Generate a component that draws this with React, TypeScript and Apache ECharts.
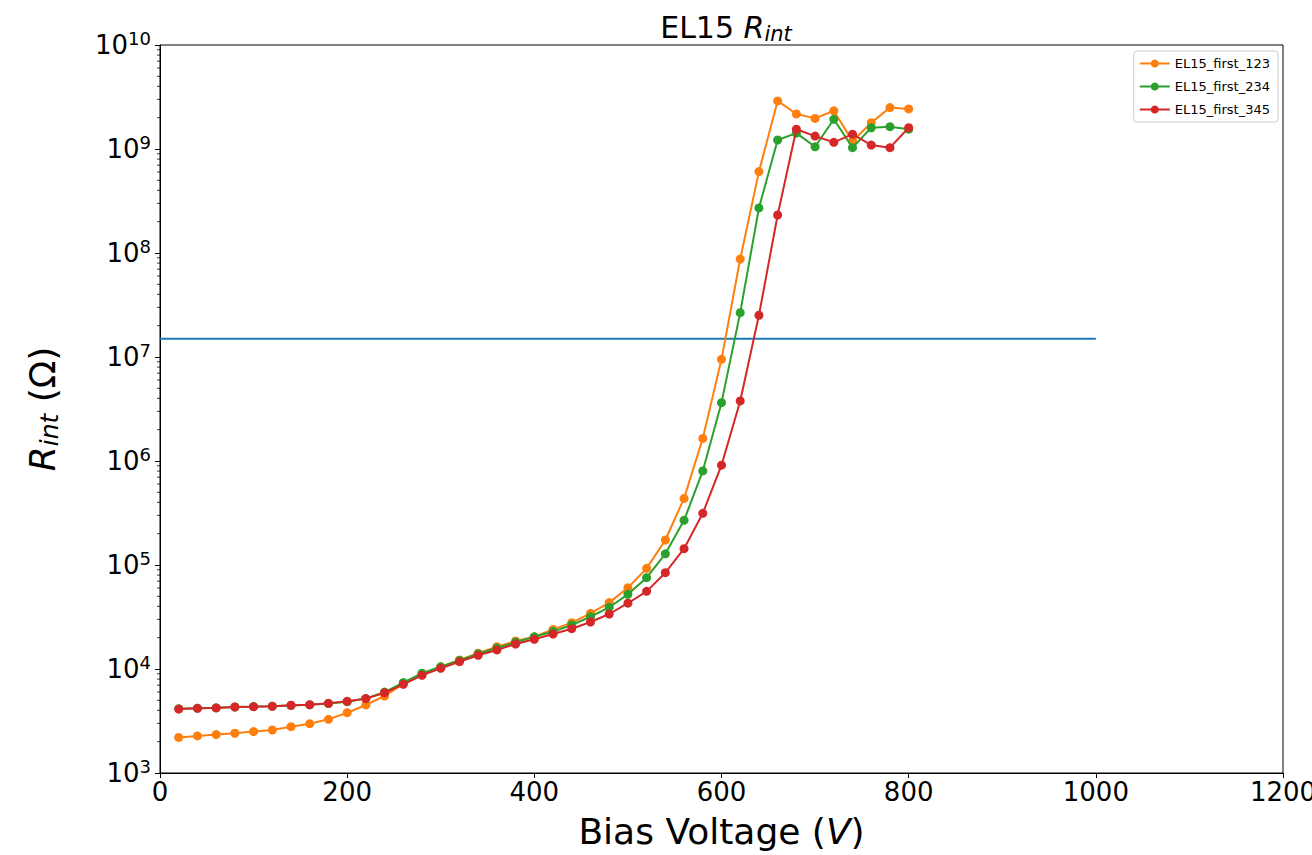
import React, { useEffect, useRef } from "react";
import * as echarts from "echarts";

const voltages = [20, 40, 60, 80, 100, 120, 140, 160, 180, 200, 220, 240, 260, 280, 300, 320, 340, 360, 380, 400, 420, 440, 460, 480, 500, 520, 540, 560, 580, 600, 620, 640, 660, 680, 700, 720, 740, 760, 780, 800];

const first123 = [2200, 2270, 2340, 2410, 2500, 2590, 2790, 2980, 3280, 3800, 4510, 5500, 7200, 8900, 10500, 12200, 14200, 16400, 18600, 20400, 24000, 27900, 34300, 43500, 60500, 92900, 174000, 437000, 1650000, 9500000, 87500000, 606000000, 2.9e9, 2.17e9, 1.97e9, 2.33e9, 1.19e9, 1.79e9, 2.5e9, 2.43e9];

const first234 = [4150, 4200, 4230, 4320, 4350, 4390, 4460, 4520, 4660, 4850, 5200, 6000, 7400, 9100, 10500, 12100, 14000, 15900, 18100, 20400, 22900, 26500, 31800, 39200, 52200, 75500, 128000, 269000, 802000, 3640000, 2.67e7, 2.71e8, 1.22e9, 1.42e9, 1.05e9, 1.93e9, 1.03e9, 1.6e9, 1.64e9, 1.55e9];

const first345 = [4120, 4190, 4220, 4310, 4340, 4380, 4480, 4540, 4680, 4890, 5190, 5910, 7120, 8700, 10150, 11750, 13550, 15240, 17400, 19300, 21700, 24400, 28300, 33800, 42900, 55800, 84300, 143500, 314000, 912000, 3.78e6, 2.52e7, 2.32e8, 1.55e9, 1.33e9, 1.16e9, 1.39e9, 1.09e9, 1.03e9, 1.6e9];

const thresholdX = [0, 1000];
const thresholdY = 1.5e7;

const seriesNames = ["EL15_first_123", "EL15_first_234", "EL15_first_345"];
const seriesColors = ["#ff7f0e", "#2ca02c", "#d62728"];

// minor tick values on the log axis (2..9 x 10^n)
const minorMantissas = [2, 3, 4, 5, 6, 7, 8, 9];
const decades = [3, 4, 5, 6, 7, 8, 9];

const FONT = "DejaVu Sans";

export default function App() {
  const ref = useRef<HTMLDivElement>(null);
  useEffect(() => {
    const chart = echarts.init(ref.current!, null, { renderer: "svg" });
    const seriesData = [first123, first234, first345];
    const minorTicks: number[][] = [];
    decades.forEach((d) => minorMantissas.forEach((m) => minorTicks.push([0, m * Math.pow(10, d)])));

    const option: any = {
      animation: false,
      backgroundColor: "#ffffff",
      textStyle: { fontFamily: FONT },
      title: {
        text: "EL15 {i|R}{s|int}",
        left: 721,
        textAlign: "center",
        top: 5,
        textStyle: {
          fontFamily: FONT,
          fontWeight: "normal",
          fontSize: 30,
          color: "#000",
          rich: {
            i: { fontFamily: FONT, fontSize: 30, fontStyle: "italic", color: "#000" },
            s: { fontFamily: FONT, fontSize: 21, fontStyle: "italic", color: "#000", padding: [13, 0, 0, 0] },
          },
        },
      },
      legend: {
        data: seriesNames,
        orient: "vertical",
        right: 34,
        top: 51,
        itemWidth: 30,
        itemHeight: 10,
        itemGap: 10,
        borderColor: "#cccccc",
        borderWidth: 1,
        borderRadius: 3,
        padding: [6, 8, 6, 5],
        textStyle: { fontFamily: FONT, fontSize: 13, color: "#000" },
      },
      grid: {
        left: 160,
        right: 29,
        top: 45,
        bottom: 82,
        show: true,
        borderColor: "#000",
        borderWidth: 1,
        backgroundColor: "transparent",
        containLabel: false,
        outerBoundsMode: "none",
      },
      xAxis: {
        type: "value",
        min: 0,
        max: 1200,
        interval: 200,
        name: "Bias Voltage ({v|V})",
        nameLocation: "middle",
        nameGap: 40,
        nameTextStyle: {
          fontFamily: FONT,
          fontSize: 36,
          color: "#000",
          rich: { v: { fontFamily: FONT, fontSize: 36, fontStyle: "italic", color: "#000" } },
        },
        axisLine: { lineStyle: { color: "#000", width: 1 } },
        axisTick: { show: true, inside: false, length: 5, lineStyle: { color: "#000" } },
        axisLabel: {
          fontFamily: FONT,
          fontSize: 26,
          color: "#000",
          margin: 6,
          hideOverlap: false,
          formatter: (v: number) => String(v),
        },
        splitLine: { show: false },
      },
      yAxis: {
        type: "log",
        logBase: 10,
        min: 1e3,
        max: 1e10,
        name: "{r|R}{s|int} ({o|Ω})",
        nameLocation: "middle",
        nameRotate: 90,
        nameGap: 98,
        nameTextStyle: {
          fontFamily: FONT,
          fontSize: 36,
          color: "#000",
          rich: {
            r: { fontFamily: FONT, fontSize: 36, fontStyle: "italic", color: "#000" },
            s: { fontFamily: FONT, fontSize: 25, fontStyle: "italic", color: "#000", padding: [15, 0, 0, 0] },
            o: { fontFamily: FONT, fontSize: 36, color: "#000" },
          },
        },
        axisLine: { show: true, lineStyle: { color: "#000", width: 1 } },
        axisTick: { show: true, inside: false, length: 5, lineStyle: { color: "#000" } },
        axisLabel: {
          fontFamily: FONT,
          fontSize: 26,
          color: "#000",
          margin: 9,
          formatter: (v: number) => `10{sup|${Math.round(Math.log10(v))}}`,
          rich: {
            sup: { fontFamily: FONT, fontSize: 18, color: "#000", padding: [0, 0, 13, 0] },
          },
        },
        splitLine: { show: false },
      },
      series: [
        {
          name: "threshold",
          type: "line",
          data: thresholdX.map((x) => [x, thresholdY]),
          showSymbol: false,
          symbol: "none",
          lineStyle: { color: "#1f77b4", width: 2 },
          silent: true,
          z: 1,
        },
        ...seriesNames.map((name, i) => ({
          name,
          type: "line",
          data: voltages.map((v, j) => [v, seriesData[i][j]]),
          symbol: "circle",
          symbolSize: 9,
          showSymbol: true,
          itemStyle: { color: seriesColors[i], borderWidth: 0 },
          lineStyle: { color: seriesColors[i], width: 2 },
          z: 2 + i,
        })),
        {
          name: "minorTicks",
          type: "custom",
          silent: true,
          clip: false,
          data: minorTicks,
          renderItem: (params: any, api: any) => {
            const p = api.coord([api.value(0), api.value(1)]);
            return {
              type: "line",
              shape: { x1: p[0] - 3, y1: p[1], x2: p[0], y2: p[1] },
              style: { stroke: "#000", lineWidth: 0.8 },
            };
          },
          z: 10,
        },
      ],
    };
    chart.setOption(option);
    return () => chart.dispose();
  }, []);
  return (
    <div
      ref={ref}
      style={{ position: "fixed", left: 0, top: 0, width: 1312, height: 855, background: "#fff" }}
    />
  );
}
